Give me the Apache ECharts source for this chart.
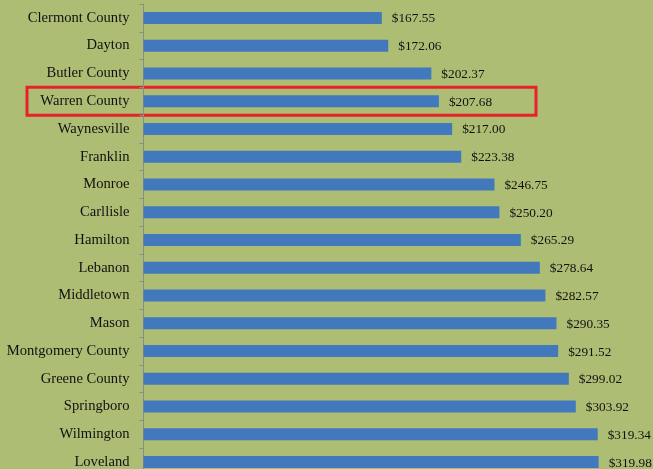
<!DOCTYPE html>
<html><head><meta charset="utf-8">
<script src="https://cdn.jsdelivr.net/npm/echarts@6/dist/echarts.min.js"></script>
<style>html,body{margin:0;padding:0;background:#aebd74;overflow:hidden}#c{width:653px;height:476px}</style>
</head><body><div id="c"></div>
<script>
const categories = ["Clermont County","Dayton","Butler County","Warren County","Waynesville","Franklin","Monroe","Carllisle","Hamilton","Lebanon","Middletown","Mason","Montgomery County","Greene County","Springboro","Wilmington","Loveland"];
const values = [167.55,172.06,202.37,207.68,217.00,223.38,246.75,250.20,265.29,278.64,282.57,290.35,291.52,299.02,303.92,319.34,319.98];
const highlighted = "Warren County";

const chart = echarts.init(document.getElementById('c'), null, {renderer:'canvas'});
const font = '"Liberation Serif","Times New Roman",serif';
chart.setOption({
  backgroundColor:'#aebd74',
  animation:false,
  grid:{left:143.5, top:4, right:0, bottom:0, containLabel:false},
  xAxis:{type:'value', min:0, max:358.2, show:false},
  yAxis:{type:'category', data:categories, inverse:true,
    axisLine:{lineStyle:{color:'#8a8f86', width:1}},
    axisTick:{show:true, length:4, inside:false, lineStyle:{color:'#8a8f86'}},
    axisLabel:{color:'#111', fontFamily:font, fontSize:14.6, margin:14}
  },
  series:[{type:'bar', data:values, barWidth:12,
    itemStyle:{color:'#4279bd'},
    label:{show:true, position:'right', distance:10, offset:[0,1], color:'#111', fontFamily:font, fontSize:13.3,
      formatter:p=>'$'+p.value.toFixed(2)}
  }]
});
const idx = categories.indexOf(highlighted);
const py = chart.convertToPixel({yAxisIndex:0}, idx);
chart.setOption({graphic:[{type:'rect', shape:{x:27, y:py-14, width:509, height:28},
  style:{fill:'none', stroke:'#e8222b', lineWidth:3}}]});
</script></body></html>
